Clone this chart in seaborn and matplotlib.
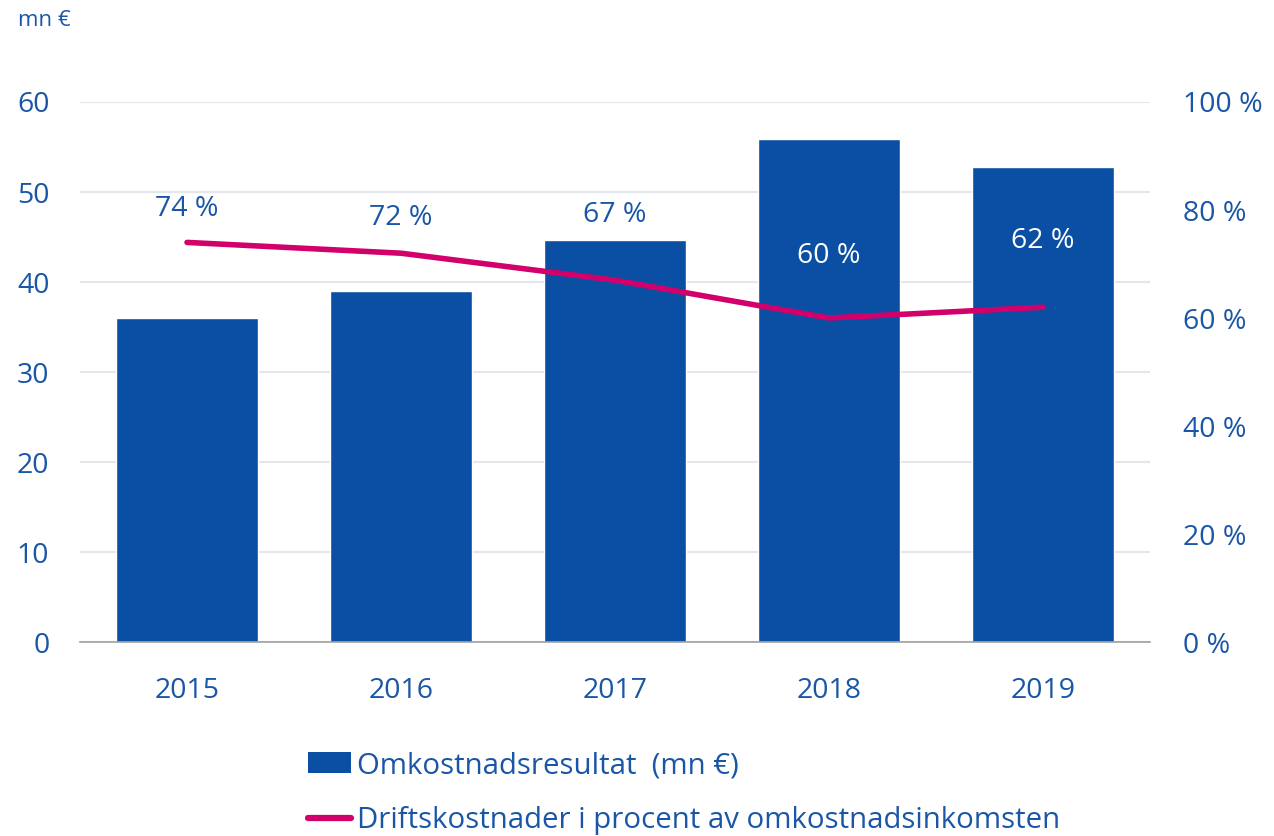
import matplotlib
matplotlib.use("Agg")
import matplotlib.pyplot as plt
from matplotlib.patches import Patch
from matplotlib.lines import Line2D
import seaborn as sns
import numpy as np

# data
years = ["2015", "2016", "2017", "2018", "2019"]
result_mn = [36.0, 39.0, 44.7, 55.9, 52.8]
cost_pct = [74, 72, 67, 60, 62]
label_offsets = [24, 25, 47, 45, 48]  # points above the line point
label_colors = ["#1a56a6", "#1a56a6", "#1a56a6", "white", "white"]

bar_color = "#0a4fa3"
line_color = "#d1006b"
text_color = "#1a56a6"

sns.set_theme(style="white")
plt.rcParams["font.family"] = ["Open Sans", "DejaVu Sans"]

fig = plt.figure(figsize=(12.74, 8.36), dpi=100)
ax = fig.add_axes([0.0628, 0.232, 0.8399, 0.646])

sns.barplot(x=years, y=result_mn, color=bar_color, width=0.66, saturation=1, ax=ax)
ax.set_ylim(0, 60)
ax.set_xlim(-0.5, 4.5)
ax.set_yticks(range(0, 61, 10))
ax.yaxis.grid(True, color="#e3e6ea", linewidth=1.5)
ax.set_axisbelow(True)
for s in ["top", "left", "right"]:
    ax.spines[s].set_visible(False)
ax.spines["bottom"].set_color("#a0a0a0")
ax.spines["bottom"].set_linewidth(1.2)
ax.tick_params(axis="y", length=0, pad=22, labelsize=20.5, labelcolor=text_color)
ax.tick_params(axis="x", length=0, pad=25, labelsize=20.5, labelcolor=text_color)
ax.set_xlabel("")
ax.set_ylabel("")

ax2 = ax.twinx()
x_pos = np.arange(len(years))
sns.lineplot(x=x_pos, y=cost_pct, color=line_color, linewidth=4, ax=ax2)
ax2.set_ylim(0, 100)
ax2.set_yticks(range(0, 101, 20))
ax2.set_yticklabels([f"{v} %" for v in range(0, 101, 20)])
ax2.tick_params(axis="y", length=0, pad=24, labelsize=20.5, labelcolor=text_color)
for s in ["top", "left", "right", "bottom"]:
    ax2.spines[s].set_visible(False)
ax2.set_ylabel("")

for i, v in enumerate(cost_pct):
    ax2.annotate(f"{v} %", (x_pos[i], v), xytext=(0, label_offsets[i]),
                 textcoords="offset points", ha="center", va="center",
                 fontsize=20.5, color=label_colors[i])

fig.text(18 / 1274, 1 - 20 / 836, "mn €", fontsize=16, color=text_color,
         ha="left", va="center")

handles = [Patch(facecolor=bar_color, edgecolor="none"),
           Line2D([0], [0], color=line_color, linewidth=4.5)]
labels = ["Omkostnadsresultat  (mn €)",
          "Driftskostnader i procent av omkostnadsinkomsten"]
leg = fig.legend(handles, labels, loc="upper left",
                 bbox_to_anchor=(308 / 1274, 1 - 751 / 836),
                 frameon=False, fontsize=21.2, handlelength=1.45,
                 handletextpad=0.2, labelspacing=0.88, borderpad=0,
                 borderaxespad=0)
for t in leg.get_texts():
    t.set_color(text_color)

fig.savefig("out.png", dpi=100)
